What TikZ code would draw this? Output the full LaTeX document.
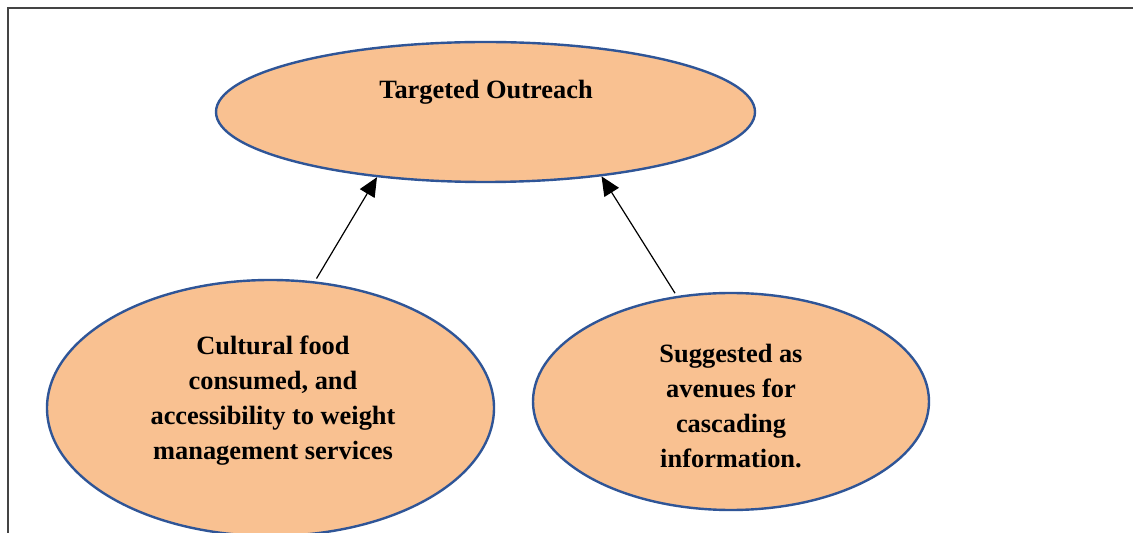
\documentclass[tikz,border=0pt]{standalone}
\usepackage{fontspec}
\setmainfont{Liberation Serif}
\usetikzlibrary{shapes.geometric,arrows.meta}
\definecolor{ellfill}{HTML}{F9C191}
\definecolor{elldraw}{HTML}{2F5597}
\definecolor{framegray}{HTML}{444444}
\tikzset{
  bubble/.style={ellipse, draw=elldraw, fill=ellfill, line width=2.4pt, inner sep=0pt},
  btext/.style={align=center, font=\fontsize{26.4}{35}\selectfont\bfseries, inner sep=0pt},
  arr/.style={-{Triangle[length=19pt,width=17pt]}, line width=1.2pt, black},
  frameline/.style={draw=framegray, line width=2pt}
}
\begin{document}
\begin{tikzpicture}[x=1pt,y=1pt]
\clip (0,0) rectangle (1133,533);
\fill[white] (0,0) rectangle (1133,533);
% frame
\coordinate (fb) at (8,0);
\coordinate (fc) at (8,525);
\coordinate (fr) at (1133,525);
\draw[frameline] (fb) -- (fc) -- (fr);
% ellipses
\node[bubble, minimum width=539pt, minimum height=140pt] (T) at (485.5,421) {};
\node[bubble, minimum width=447pt, minimum height=256pt] (L) at (270.5,125) {};
\node[bubble, minimum width=396pt, minimum height=217pt] (R) at (731,131.5) {};
% texts
\node[btext] (Tt) at (486,441) {Targeted Outreach};
\node[btext] (Lt) at (273,132) {Cultural food\\consumed, and\\accessibility to weight\\management services};
\node[btext] (Rt) at (731,127) {Suggested as\\avenues for\\cascading\\information.};
% arrows
\draw[arr] ([yshift=3pt]L.70) -- (T.211.6);
\draw[arr] ([yshift=3pt]R.118) -- (T.331.4);
\end{tikzpicture}
\end{document}
